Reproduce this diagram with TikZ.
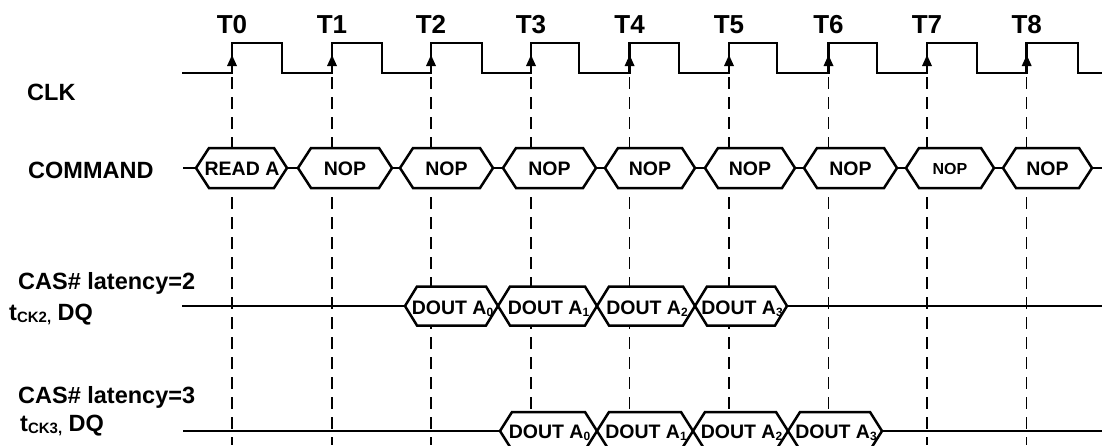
\documentclass[tikz,border=0pt]{standalone}
\usepackage{fontspec}
\setmainfont{Liberation Sans}
\newcommand\hexshape[6]{%
  \draw[#6] (#1,#3) -- ({#1+#5},{#3-#4}) -- ({#2-#5},{#3-#4}) -- (#2,#3)
    -- ({#2-#5},{#3+#4}) -- ({#1+#5},{#3+#4}) -- cycle;}
\newcommand\dsub[1]{\raisebox{-2.5pt}{\fontsize{12}{12}\selectfont #1}}
\newcommand\tsub[1]{\raisebox{-1.5pt}{\fontsize{15}{15}\selectfont #1}}
\begin{document}
\begin{tikzpicture}[x=1pt,y=-1pt,
  clk/.style={line width=2.8pt, line join=miter},
  hexline/.style={line width=2.5pt, line join=miter, fill=white},
  bus/.style={line width=2.5pt},
  guide/.style={line width=1.5pt, dash pattern=on 12pt off 8pt},
  tlab/.style={font=\fontsize{26}{30}\selectfont\bfseries, anchor=base, inner sep=0pt},
  rlab/.style={font=\fontsize{23.5}{28}\selectfont\bfseries, anchor=base west, inner sep=0pt},
  hlab/.style={font=\fontsize{19.5}{22}\selectfont\bfseries, anchor=base, inner sep=0pt},
  slab/.style={font=\fontsize{16}{18}\selectfont\bfseries, anchor=base, inner sep=0pt},
]
\useasboundingbox (0,0) rectangle (1102,445);
\clip (0,0) rectangle (1102,445);

% guide lines and time labels
\foreach \n/\x in {0/232,1/332,2/431,3/531,4/629.6,5/729,6/828.5,7/927,8/1026.7}{
  \draw[guide] (\x,77) -- (\x,445);
  \node[tlab] (t\n) at (\x,33) {T\n};
  \fill ({\x},55) -- ({\x+5},66) -- ({\x-5},66) -- cycle;
}

% clock
\draw[clk] (182,73) -| (232,43) -| (282,73) -| (332,43) -| (382,73) -| (431,43)
  -| (482,73) -| (531,43) -| (579,73) -| (629.6,43) -| (679,73) -| (729,43)
  -| (777,73) -| (828.5,43) -| (877,73) -| (927,43) -| (977,73) -| (1026.7,43)
  -| (1078,73) -- (1102,73);

% row labels
\node[rlab] (lclk) at (27,100) {CLK};
\node[rlab] (lcmd) at (28,178) {COMMAND};
\node[rlab] (lcas2) at (18,289) {CAS\# latency=2};
\node[rlab] (ldq2) at (9,320.7) {t\tsub{CK2,} DQ};
\node[rlab] (lcas3) at (18,403) {CAS\# latency=3};
\node[rlab] (ldq3) at (20,431.7) {t\tsub{CK3,} DQ};

% command bus
\draw[bus] (183,168) -- (1102,168);
\foreach \n/\l/\r in {0/196/287,1/298/392,2/400/493,3/503/596,4/605/695,5/705/795,6/804/897,7/906/994,8/1003/1092}{
  \hexshape{\l}{\r}{168}{20}{13}{hexline}
}
\node[hlab] (c0) at (242,175) {READ A};
\foreach \n/\l/\r in {1/298/392,2/400/493,3/503/596,4/605/695,5/705/795,6/804/897,8/1003/1092}{
  \node[hlab] (c\n) at ({(\l+\r)/2},175) {NOP};
}
\node[slab] (c7) at (950,174) {NOP};

% DQ, CAS latency 2
\draw[bus] (182,306) -- (1102,306);
\foreach \n/\l/\r in {0/405/498,1/498/597,2/597/695,3/695/787}{
  \hexshape{\l}{\r}{306}{19.5}{12}{hexline}
  \node[hlab] (a\n) at ({(\l+\r)/2+1},314) {DOUT A\dsub{\n}};
}

% DQ, CAS latency 3
\draw[bus] (183,431) -- (1102,431);
\foreach \n/\l/\r in {0/500/597,1/597/693,2/693/788,3/788/882}{
  \hexshape{\l}{\r}{431}{19}{12}{hexline}
  \node[hlab] (b\n) at ({(\l+\r)/2+1},438) {DOUT A\dsub{\n}};
}
\end{tikzpicture}
\end{document}
